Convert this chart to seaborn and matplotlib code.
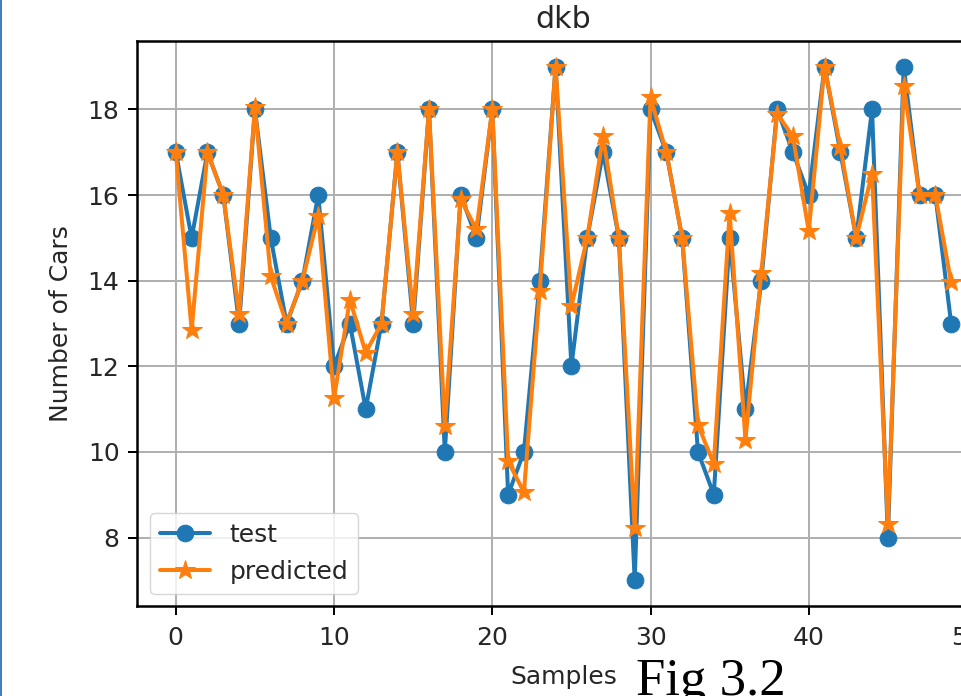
import matplotlib
matplotlib.use("Agg")
import matplotlib.pyplot as plt
from matplotlib.lines import Line2D
import numpy as np
import seaborn as sns

# values
samples = list(range(50))
test = [17, 15, 17, 16, 13, 18, 15, 13, 14, 16,
        12, 13, 11, 13, 17, 13, 18, 10, 16, 15,
        18, 9, 10, 14, 19, 12, 15, 17, 15, 7,
        18, 17, 15, 10, 9, 15, 11, 14, 18, 17,
        16, 19, 17, 15, 18, 8, 19, 16, 16, 13]
predicted = [17.0, 12.85, 17.0, 16.0, 13.22, 18.05, 14.1, 13.0, 14.0, 15.52,
             11.26, 13.56, 12.32, 13.0, 17.0, 13.22, 18.0, 10.6, 15.9, 15.2,
             18.0, 9.78, 9.06, 13.76, 19.0, 13.4, 15.0, 17.37, 15.0, 8.22,
             18.28, 17.0, 15.0, 10.63, 9.72, 15.58, 10.28, 14.18, 17.9, 17.37,
             15.16, 19.0, 17.12, 15.0, 16.5, 8.32, 18.56, 16.0, 16.0, 13.96]

S = 1.8  # scale from the notebook's default sizes

sns.set_theme(style="ticks", rc={
    "axes.edgecolor": "black",
    "axes.linewidth": 1.8,
    "grid.color": "#b0b0b0",
    "grid.linewidth": 0.8 * S,
    "xtick.major.size": 3.5 * S,
    "ytick.major.size": 3.5 * S,
    "xtick.major.width": 0.8 * S,
    "ytick.major.width": 0.8 * S,
    "xtick.major.pad": 4.5 * S,
    "ytick.major.pad": 3.5 * S,
})
plt.rcParams["font.family"] = ["DejaVu Sans"]

fig = plt.figure(figsize=(9.61, 6.96), dpi=100)
ax = fig.add_axes([0.1426, 0.1293, 0.8875, 0.8118])

sns.lineplot(x=samples, y=test, ax=ax, color="#1f77b4", marker="o",
             markersize=12, markeredgecolor="#1f77b4", linewidth=2.9,
             label="test")
sns.lineplot(x=samples, y=predicted, ax=ax, color="#ff7f0e", marker="*",
             markersize=15, markeredgecolor="#ff7f0e", linewidth=2.9,
             label="predicted")

ax.grid(True)
ax.tick_params(labelsize=10 * S, colors="black", labelcolor="#262626")
ax.set_xlabel("Samples", fontsize=10 * S, color="#262626", labelpad=6 * S)
ax.set_ylabel("Number of Cars", fontsize=10 * S, color="#262626", labelpad=6 * S)
ax.set_title("dkb", fontsize=12 * S, color="#262626", pad=5 * S)

leg = ax.legend(loc="lower left", fontsize=10 * S, frameon=True,
                framealpha=0.8, edgecolor="#cccccc", fancybox=True,
                handlelength=2.0, borderaxespad=0.5)

# caption and page border from the document screenshot
fig.text(636 / 961, 1 / 696, "Fig 3.2", fontsize=38, va="baseline",
         ha="left", family=["Liberation Serif", "DejaVu Serif"], color="black")
fig.add_artist(Line2D([0.0015, 0.0015], [0, 1], color="#4a7ebb",
                      linewidth=1.5, transform=fig.transFigure))

fig.savefig("out.png", dpi=100)
